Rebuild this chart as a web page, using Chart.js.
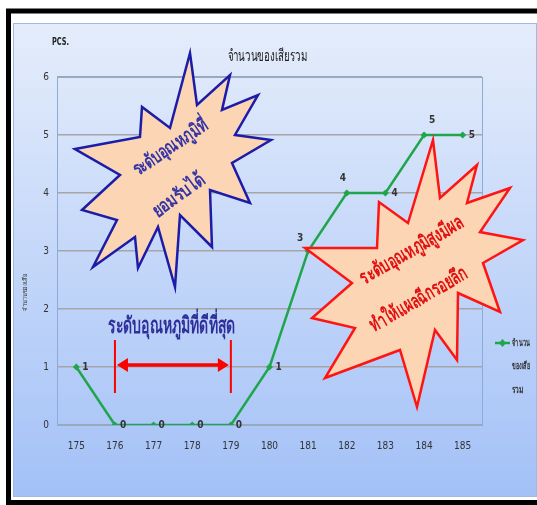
<!DOCTYPE html>
<html>
<head>
<meta charset="utf-8">
<script src="https://cdn.jsdelivr.net/npm/chart.js@4.4.1/dist/chart.umd.min.js"></script>
<style>
  html, body { margin: 0; padding: 0; background: #ffffff; }
  #wrap { width: 537px; height: 505px; }
</style>
</head>
<body>
<div id="wrap"><canvas id="c" width="537" height="505"></canvas></div>
<script>
// Temperature settings on the x axis and total rejects counted at each
const temperatures = ['175', '176', '177', '178', '179', '180', '181', '182', '183', '184', '185'];
const defectCounts = [1, 0, 0, 0, 0, 1, 3, 4, 4, 5, 5];
const yTickValues = [0, 1, 2, 3, 4, 5, 6];
const seriesName = 'จำนวนของเสียรวม';
const legendLines = ['จำนวน', 'ของเสีย', 'รวม'];
const chartTitle = 'จำนวนของเสียรวม';
const unitLabel = 'PCS.';
const yAxisName = 'จำนวนของเสีย';
const bestRangeText = 'ระดับอุณหภูมิที่ดีที่สุด';
const acceptableText = ['ระดับอุณหภูมิที่', 'ยอมรับได้'];
const tooHotText = ['ระดับอุณหภูมิสูงมีผล', 'ทำให้แผลฉีกรอยลึก'];

const FONT = "'Liberation Sans Narrow', 'DejaVu Sans Condensed', 'Noto Sans', sans-serif";
const GREEN = '#1fa64c';

// value-label placement around each point (dx, dy, align)
const labelPlacement = [
  [6, 0, 'left'], [5, 0, 'left'], [5, 0, 'left'], [5, 0, 'left'], [5, 0, 'left'],
  [6, 0, 'left'], [-8, -13, 'center'], [-4, -15, 'center'], [6, 0, 'left'],
  [8, -15, 'center'], [6, 0, 'left']
];

// starburst outlines (canvas px)
const blueBurst = [[75,149],[140,137],[142,107],[170,128],[190,53],[197,105],[230,75],[222,110],
  [258,95],[235,135],[271,140],[232,163],[250,203],[210,190],[212,247],[180,215],[175,287],
  [158,227],[138,268],[135,237],[93,267],[117,220],[82,210],[120,175]];
const redBurst = [[305,248],[377,248],[379,202],[408,223],[433,140],[440,198],[477,165],[467,203],
  [510,188],[480,232],[523,240],[483,263],[500,312],[458,293],[457,360],[435,330],[417,407],
  [400,350],[325,378],[355,328],[312,318],[352,283]];

const backdrop = {
  id: 'backdrop',
  beforeDraw(chart) {
    const ctx = chart.ctx;
    ctx.save();
    ctx.fillStyle = '#ffffff';
    ctx.fillRect(0, 0, chart.width, chart.height);
    const g = ctx.createLinearGradient(0, 23, 0, 497);
    g.addColorStop(0, '#e5edfb');
    g.addColorStop(1, '#a3c1f7');
    ctx.fillStyle = g;
    ctx.fillRect(13, 23, 524, 474);
    ctx.strokeStyle = '#9fb9e3';
    ctx.lineWidth = 1;
    ctx.strokeRect(13.5, 23.5, 523, 473);
    ctx.strokeStyle = '#000000';
    ctx.lineWidth = 5;
    ctx.strokeRect(8.5, 11, 540, 491.5);
    ctx.restore();
  },
  beforeDatasetsDraw(chart) {
    const {ctx, chartArea: a} = chart;
    ctx.save();
    ctx.strokeStyle = '#8eaad8';
    ctx.lineWidth = 1;
    ctx.strokeRect(a.left + 0.5, a.top + 0.5, a.right - a.left, a.bottom - a.top);
    ctx.restore();
  }
};

function drawBurst(ctx, pts, stroke) {
  ctx.beginPath();
  pts.forEach((p, i) => i ? ctx.lineTo(p[0], p[1]) : ctx.moveTo(p[0], p[1]));
  ctx.closePath();
  ctx.fillStyle = '#fcd5b4';
  ctx.fill();
  ctx.lineJoin = 'miter';
  ctx.lineWidth = 2.5;
  ctx.strokeStyle = stroke;
  ctx.stroke();
}

// text squeezed horizontally to a given run length, then rotated about its centre
function fitText(ctx, text, x, y, deg, font, color, width, align) {
  ctx.save();
  ctx.translate(x, y);
  ctx.rotate(deg * Math.PI / 180);
  ctx.font = font;
  const w = ctx.measureText(text).width;
  ctx.scale(Math.min(1, width / w), 1);
  ctx.fillStyle = color;
  ctx.textAlign = align || 'center';
  ctx.textBaseline = 'middle';
  ctx.fillText(text, 0, 0);
  ctx.restore();
}

const overlay = {
  id: 'overlay',
  afterDatasetsDraw(chart) {
    const {ctx, chartArea: a, scales: {x, y}} = chart;
    const meta = chart.getDatasetMeta(0);
    ctx.save();

    // point value labels
    ctx.font = 'bold 10px ' + FONT;
    ctx.fillStyle = '#333333';
    ctx.textBaseline = 'middle';
    meta.data.forEach((pt, i) => {
      const [dx, dy, al] = labelPlacement[i];
      ctx.textAlign = al;
      ctx.fillText(String(defectCounts[i]), pt.x + dx, pt.y + dy);
    });

    // titles
    fitText(ctx, chartTitle, (a.left + a.right) / 2 - 2, 57, 0, '16px ' + FONT, '#222222', 80);
    fitText(ctx, unitLabel, 52, 42, 0, 'bold 10px ' + FONT, '#222222', 17, 'left');
    fitText(ctx, yAxisName, 25, 292, -90, '6px ' + FONT, '#333333', 38);

    // legend
    const ly = 343;
    ctx.strokeStyle = GREEN;
    ctx.lineWidth = 2.5;
    ctx.beginPath(); ctx.moveTo(495, ly); ctx.lineTo(510, ly); ctx.stroke();
    ctx.fillStyle = GREEN;
    ctx.beginPath();
    ctx.moveTo(502.5, ly - 4); ctx.lineTo(506, ly); ctx.lineTo(502.5, ly + 4); ctx.lineTo(499, ly);
    ctx.closePath(); ctx.fill();
    const legendWidths = [18, 18, 12];
    legendLines.forEach((t, i) =>
      fitText(ctx, t, 512, ly + i * 23.5, 0, 'bold 10px ' + FONT, '#333333', legendWidths[i], 'left'));

    // best range marker between 176 and 179
    const x0 = x.getPixelForValue(1), x1 = x.getPixelForValue(4);
    const ay = y.getPixelForValue(1);
    ctx.strokeStyle = '#ff0000';
    ctx.fillStyle = '#ff0000';
    ctx.lineWidth = 2;
    ctx.beginPath();
    ctx.moveTo(x0, ay - 27); ctx.lineTo(x0, ay + 26);
    ctx.moveTo(x1, ay - 27); ctx.lineTo(x1, ay + 26);
    ctx.stroke();
    ctx.lineWidth = 3.5;
    ctx.beginPath(); ctx.moveTo(x0 + 8, ay - 2); ctx.lineTo(x1 - 8, ay - 2); ctx.stroke();
    ctx.beginPath();
    ctx.moveTo(x0 + 2, ay - 2); ctx.lineTo(x0 + 13, ay - 9); ctx.lineTo(x0 + 13, ay + 5); ctx.closePath();
    ctx.moveTo(x1 - 2, ay - 2); ctx.lineTo(x1 - 13, ay - 9); ctx.lineTo(x1 - 13, ay + 5); ctx.closePath();
    ctx.fill();
    fitText(ctx, bestRangeText, (x0 + x1) / 2 - 1, ay - 40, 0, 'bold 23px ' + FONT, '#2f2f9c', 127);

    // callouts
    drawBurst(ctx, blueBurst, '#1c1ca8');
    fitText(ctx, acceptableText[0], 171, 148, -34, 'bold 19px ' + FONT, '#3434a4', 87);
    fitText(ctx, acceptableText[1], 179, 196, -36, 'bold 19px ' + FONT, '#3434a4', 60);
    drawBurst(ctx, redBurst, '#ff1414');
    fitText(ctx, tooHotText[0], 412, 251, -30, 'bold 20px ' + FONT, '#e01010', 116);
    fitText(ctx, tooHotText[1], 419, 300, -30, 'bold 20px ' + FONT, '#e01010', 109);

    ctx.restore();
  }
};

new Chart(document.getElementById('c'), {
  type: 'line',
  data: {
    labels: temperatures,
    datasets: [{
      label: seriesName,
      data: defectCounts,
      borderColor: GREEN,
      backgroundColor: GREEN,
      borderWidth: 2.5,
      pointStyle: 'rectRot',
      pointRadius: 3.5,
      pointBorderWidth: 0,
      tension: 0,
      fill: false
    }]
  },
  options: {
    responsive: false,
    animation: false,
    devicePixelRatio: 1,
    layout: { padding: { top: 77, right: 55, bottom: 50, left: 0 } },
    plugins: { legend: { display: false }, title: { display: false }, tooltip: { enabled: false } },
    scales: {
      x: {
        type: 'category',
        offset: true,
        grid: { display: false },
        border: { display: false },
        ticks: { color: '#333333', font: { family: FONT, size: 10 }, padding: 7, maxRotation: 0 },
        afterFit: s => { s.height = 30; }
      },
      y: {
        min: 0,
        max: 6,
        afterBuildTicks: s => { s.ticks = yTickValues.map(v => ({ value: v })); },
        grid: { color: '#a6a6a6', lineWidth: 1.5, drawTicks: false },
        border: { display: false },
        ticks: { color: '#333333', font: { family: FONT, size: 10 }, padding: 8 },
        afterFit: s => { s.width = 57; }
      }
    }
  },
  plugins: [backdrop, overlay]
});
</script>
</body>
</html>
